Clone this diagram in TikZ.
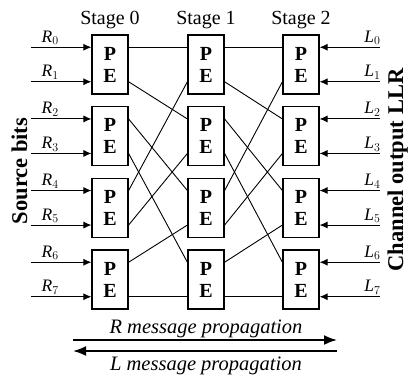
\documentclass[tikz,border=0pt]{standalone}
\usepackage{fontspec}
\setmainfont{Liberation Serif}
\usetikzlibrary{arrows.meta,calc}
\begin{document}
\begin{tikzpicture}[x=1pt,y=-1pt,
  pe/.style={draw, line width=1.2pt, minimum width=36pt, minimum height=59pt, inner sep=0pt, align=center, font=\fontsize{20}{22}\selectfont\bfseries},
  wire/.style={line width=0.9pt},
  inarrow/.style={line width=0.9pt, -{Latex[length=8pt,width=7pt]}},
  bigarrow/.style={line width=1.8pt, -{Latex[length=13pt,width=10pt]}},
  stagelbl/.style={font=\fontsize{20}{24}\selectfont, inner sep=0pt, anchor=base},
  portlbl/.style={font=\fontsize{17.5}{20}\selectfont, inner sep=0pt},
  sidelbl/.style={font=\fontsize{22.5}{26}\selectfont\bfseries, inner sep=0pt, rotate=90, anchor=base},
  msglbl/.style={font=\fontsize{20.5}{24}\selectfont\itshape, inner sep=0pt, anchor=base}]
\useasboundingbox (0,0) rectangle (409,379);
% PE boxes and their ports
\foreach \s/\x in {0/110,1/206,2/301}{
  \node[stagelbl] (st\s) at (\x,25) {Stage \s};
  \foreach \b/\y [evaluate=\b as \pa using int(2*\b), evaluate=\b as \pb using int(2*\b+1)] in {0/64.5,1/136.2,2/207.8,3/279.5}{
    \node[pe] (b\s\b) at (\x,\y) {P\\E};
    \coordinate (L\s-\pa) at ($(b\s\b.west)+(0,-17.25)$);
    \coordinate (L\s-\pb) at ($(b\s\b.west)+(0,17.25)$);
    \coordinate (R\s-\pa) at ($(b\s\b.east)+(0,-17.25)$);
    \coordinate (R\s-\pb) at ($(b\s\b.east)+(0,17.25)$);
  }
}
% shuffle connections
\foreach \k/\m in {0/0,1/2,2/4,3/6,4/1,5/3,6/5,7/7}{
  \draw[wire] (R0-\k) -- (L1-\m);
  \draw[wire] (R1-\k) -- (L2-\m);
}
% inputs and outputs
\foreach \k in {0,...,7}{
  \coordinate (src\k) at ($(L0-\k)+(-60,0)$);
  \draw[inarrow] (src\k) -- (L0-\k);
  \node[portlbl, anchor=base west] (rl\k) at ($(L0-\k)+(-50,-5)$) {\textit{R}$_{\k}$};
  \coordinate (chn\k) at ($(R2-\k)+(60,0)$);
  \draw[inarrow] (chn\k) -- (R2-\k);
  \node[portlbl, anchor=base east] (ll\k) at ($(R2-\k)+(61,-5)$) {\textit{L}$_{\k}$};
}
% side labels
\node[sidelbl] (srclbl) at (27,171) {Source bits};
\node[sidelbl] (chanlbl) at (403,170) {Channel output LLR};
% propagation arrows
\coordinate (ra) at (73,340);
\coordinate (rb) at (337,340);
\draw[bigarrow] (ra) -- (rb);
\coordinate (la) at (73,351);
\coordinate (lb) at (337,351);
\draw[bigarrow] (lb) -- (la);
\node[msglbl] (rmsg) at (206,333) {R message propagation};
\node[msglbl] (lmsg) at (206,370) {L message propagation};
\end{tikzpicture}
\end{document}
